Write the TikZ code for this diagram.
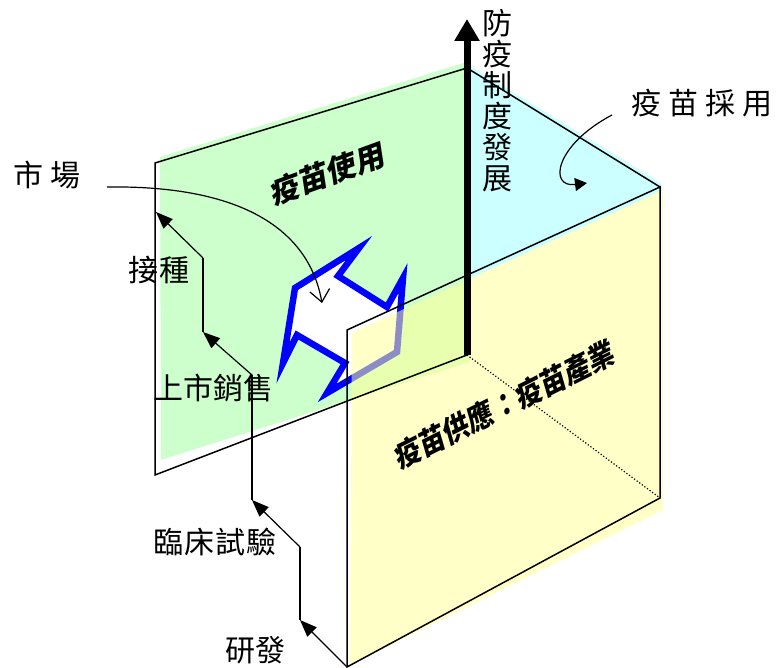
\documentclass[tikz,border=0pt]{standalone}
\usepackage{fontspec}
\newfontfamily\cjk{Noto Sans CJK TC}
\newfontfamily\cjkbi{Noto Sans CJK TC}[FakeSlant=0.2]
\usetikzlibrary{arrows.meta}
\definecolor{greenfill}{HTML}{CCFFCC}
\definecolor{cyanfill}{HTML}{CCFFFF}
\definecolor{yellowfill}{HTML}{FFFF99}
\definecolor{arrowblue}{HTML}{0000FF}
\begin{document}
\begin{tikzpicture}[x=1pt,y=-1pt,
  lbl/.style={font=\cjk\fontsize{30}{31}\selectfont, inner sep=0pt},
  slanted/.style={font=\cjkbi\bfseries\fontsize{30}{31}\selectfont, inner sep=0pt},
  edge/.style={line width=1.5pt, line join=miter},
  conn/.style={line width=1.2pt},
  tri/.style={conn, -{Triangle[length=17pt,width=13pt]}},
]
\useasboundingbox (0,0) rectangle (776,668);
% ---- fills ----
\fill[greenfill] (160,157) -- (467,62) -- (470,362) -- (161,460) -- cycle;
\fill[cyanfill] (467,64) -- (661,183) -- (663,190) -- (467,280) -- cycle;
% blue double arrow
\draw[arrowblue, line width=6.5pt, fill=white, line join=miter, miter limit=10]
  (295,288) -- (359,248) -- (338,276) -- (387,307) -- (403,278) -- (397,352)
  -- (327,393) -- (345,363) -- (297,335) -- (283,363) -- cycle;
% yellow panel fill, translucent
\fill[yellowfill, fill opacity=0.55] (352,333) -- (663,190) -- (663,510) -- (350,665) -- cycle;
% ---- outlines ----
\coordinate (gTL) at (155,163);
\coordinate (gTR) at (467,68);
\coordinate (gBR) at (467,355);
\coordinate (gBL) at (155,475);
\coordinate (yTL) at (347,330);
\coordinate (yTR) at (660,187);
\coordinate (yBR) at (660,498);
\coordinate (yBL) at (347,667);
\draw[edge] (gTL) -- (gTR) -- (gBR) -- (gBL) -- cycle;
\draw[edge] (gTR) -- (yTR);
\draw[edge] (yTL) -- (yTR) -- (yBR) -- (yBL) -- cycle;
\draw[dotted, line width=1.2pt] (gBR) -- (yBR);
% ---- axis ----
\coordinate (axT) at (467,19);
\draw[line width=7pt, -{Triangle[length=22pt,width=24pt]}] (gBR) -- (axT);
% ---- labels ----
\node[lbl, align=center] (ctrl) at (497,101) {防\\疫\\制\\度\\發\\展};
\node[lbl] (adopt) at (702,103) {疫\hspace{7pt}苗\hspace{7pt}採\hspace{7pt}用};
\node[lbl] (mkt) at (47,175) {市\hspace{7pt}場};
\node[lbl] (inj) at (159,270) {接\hspace{2pt}種};
\node[lbl] (sale) at (213,388) {上市銷售};
\node[lbl] (trial) at (215,542) {臨\hspace{1pt}床\hspace{1pt}試\hspace{1pt}驗};
\node[lbl] (rd) at (255,650) {研發};
\node[slanted, rotate=20] (use) at (326,174) {疫苗使用};
\node[slanted, rotate=26.5, xscale=0.9] (supply) at (503,405) {疫苗供應：疫苗產業};
% ---- connectors ----
\coordinate (mktS) at (107,187);
\coordinate (mktE) at (322,303);
\draw[conn, -{Straight Barb[length=12pt,width=20pt]}] (mktS) .. controls (250,185) and (310,235) .. (mktE);
\coordinate (adS) at (612,115);
\coordinate (adE) at (587,183);
\draw[conn, -{Triangle[length=12pt,width=13pt]}] (adS) .. controls (555,145) and (548,188) .. (adE);
\coordinate (z1) at (300,620);
\coordinate (z2) at (300,547);
\coordinate (z3) at (252,500);
\coordinate (z4) at (252,375);
\coordinate (z5) at (203,332);
\coordinate (z6) at (203,258);
\coordinate (z7) at (156,212);
\draw[tri] (yBL) -- (z1);
\draw[conn] (z1) -- (z2);
\draw[tri] (z2) -- (z3);
\draw[conn] (z3) -- (z4);
\draw[tri] (z4) -- (z5);
\draw[conn] (z5) -- (z6);
\draw[tri] (z6) -- (z7);
\end{tikzpicture}
\end{document}
